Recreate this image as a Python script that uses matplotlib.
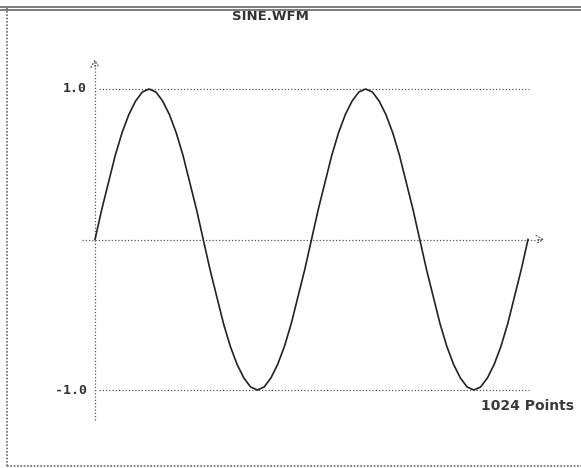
import matplotlib
matplotlib.use("Agg")
import matplotlib.pyplot as plt
from matplotlib.lines import Line2D

# waveform: one value every 16 samples, 2 cycles
sample_step = 16
n_points = 1024
wave = [0.00, 0.20, 0.38, 0.56, 0.71, 0.83, 0.92, 0.98, 1.00, 0.98, 0.92, 0.83, 0.71, 0.56, 0.38, 0.20,
        0.00, -0.20, -0.38, -0.56, -0.71, -0.83, -0.92, -0.98, -1.00, -0.98, -0.92, -0.83, -0.71, -0.56, -0.38, -0.20,
        0.00, 0.20, 0.38, 0.56, 0.71, 0.83, 0.92, 0.98, 1.00, 0.98, 0.92, 0.83, 0.71, 0.56, 0.38, 0.20,
        0.00, -0.20, -0.38, -0.56, -0.71, -0.83, -0.92, -0.98, -1.00, -0.98, -0.92, -0.83, -0.71, -0.56, -0.38, -0.20,
        0.00]
ref_levels = [1.0, -1.0]
ref_labels = ["1.0", "-1.0"]
title = "SINE.WFM"
count_label = f"{n_points} Points"

W, H = 581, 468
fig = plt.figure(figsize=(W / 100, H / 100), dpi=100)
fig.patch.set_facecolor("white")

# axes placed in pixels: x 0..1024 -> 95..528, y -1..1 -> 390..89
px_l, px_r, px_t, px_b = 95, 528, 89, 390
ax = fig.add_axes([px_l / W, 1 - px_b / H, (px_r - px_l) / W, (px_b - px_t) / H])
ax.set_xlim(0, n_points)
ax.set_ylim(-1, 1)
ax.axis("off")
sx = n_points / (px_r - px_l)
sy = 2 / (px_b - px_t)

dots = dict(color="#555555", lw=0.9, ls=(0, (1, 1.6)), clip_on=False)

# axes lines
ax.plot([-13 * sx, 446 * sx], [0, 0], **dots)
ax.plot([0, 0], [-180 * sy, 176 * sy], **dots)
arrow = dict(arrowstyle="->,head_length=0.5,head_width=0.3", color="#666666", lw=0.9, ls=":")
ax.annotate("", xy=(452 * sx, 0), xytext=(440 * sx, 0), arrowprops=arrow,
            annotation_clip=False)
ax.annotate("", xy=(0, 183 * sy), xytext=(0, 170 * sy), arrowprops=arrow,
            annotation_clip=False)

# reference levels
for lvl, lab in zip(ref_levels, ref_labels):
    ax.plot([4 * sx, 434 * sx], [lvl, lvl], **dots)
    ax.text(-8 * sx, lvl, lab, ha="right", va="center", fontsize=9.5,
            fontweight="bold", color="#333333", family="DejaVu Sans Mono")

xs = [i * sample_step for i in range(len(wave))]
ax.plot(xs, wave, color="#222222", lw=1.2, clip_on=False)

ax.text(n_points + 46 * sx, -1 - 16 * sy, count_label, ha="right", va="center",
        fontsize=10, fontweight="bold", color="#3a3a3a", family="DejaVu Sans Condensed")

fig.text(270 / W, 1 - 16 / H, title, ha="center", va="center", fontsize=9.5,
         fontweight="bold", color="#333333", family="DejaVu Sans Condensed")

# scanned window frame
frame = dict(color="#666666", lw=1.2, transform=fig.transFigure)
fig.add_artist(Line2D([0, 1], [1 - 7 / H, 1 - 7 / H], **frame))
fig.add_artist(Line2D([0, 1], [1 - 10 / H, 1 - 10 / H], **frame))
fig.add_artist(Line2D([7 / W, 7 / W], [1 - 466 / H, 1 - 8 / H], ls=(0, (1, 1)), **frame))
fig.add_artist(Line2D([7 / W, 1], [1 - 466 / H, 1 - 466 / H], ls=(0, (1, 1)), **frame))

fig.savefig("out.png", dpi=100)
